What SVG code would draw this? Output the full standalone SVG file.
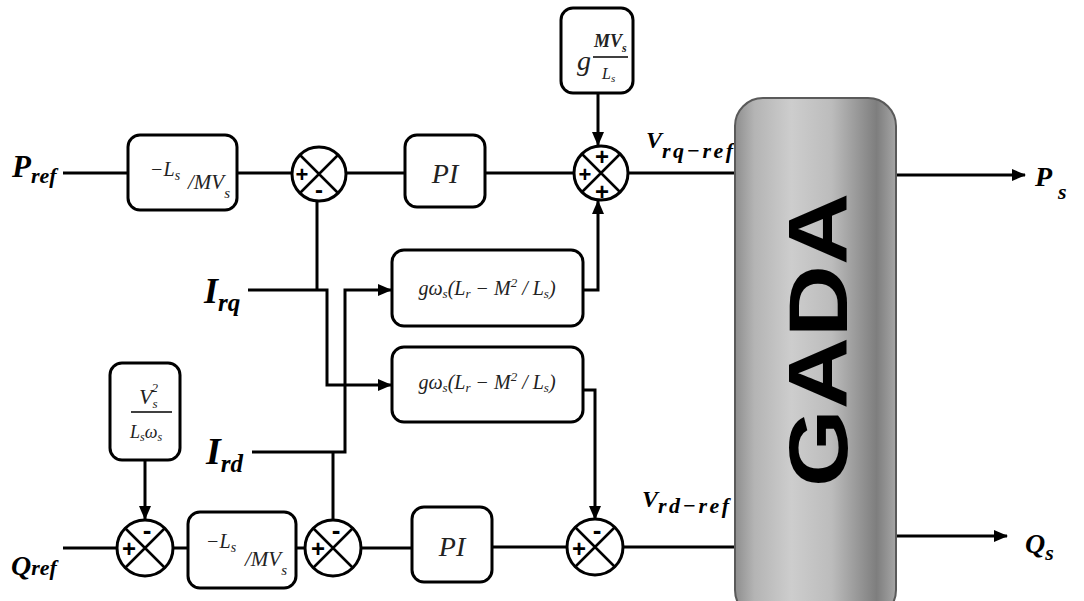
<svg xmlns="http://www.w3.org/2000/svg" width="1084" height="601" viewBox="0 0 1084 601">
<style>
.box{fill:#fff;stroke:#000;stroke-width:3}
.sum{fill:#fff;stroke:#000;stroke-width:3}
.x{stroke:#000;stroke-width:2.5}
.w{fill:none;stroke:#000;stroke-width:3}
.lbl{font-family:"Liberation Serif",serif;font-weight:bold;font-style:italic;fill:#000}
.bt{font-family:"Liberation Serif",serif;font-style:italic;fill:#222}
.sg{font-family:"Liberation Sans",sans-serif;font-weight:bold;fill:#000;text-anchor:middle}
</style>
<defs>
<marker id="arr" markerWidth="14" markerHeight="12" refX="13" refY="6" orient="auto" markerUnits="userSpaceOnUse"><path d="M0,0 L14,6 L0,12 z" fill="#000"/></marker>
<linearGradient id="gada" x1="0" y1="0" x2="1" y2="0">
<stop offset="0" stop-color="#8e8e8e"/>
<stop offset="0.12" stop-color="#b4b4b4"/>
<stop offset="0.35" stop-color="#cdcdcd"/>
<stop offset="0.6" stop-color="#bcbcbc"/>
<stop offset="0.88" stop-color="#7e7e7e"/>
<stop offset="1" stop-color="#a6a6a6"/>
</linearGradient>
</defs>

<g id="connectors">
<path class="w" d="M63,173 H128"/>
<path class="w" d="M237,173 H292"/>
<path class="w" d="M346,173 H405"/>
<path class="w" d="M485,173 H574" stroke-width="5"/>
<path class="w" d="M598,93 V145" marker-end="url(#arr)"/>
<path class="w" d="M628,173 H736"/>
<path class="w" d="M583,290 H598 V201" marker-end="url(#arr)"/>
<path class="w" d="M317,200 V290"/>
<path class="w" d="M248,290 H327 V385 H391" marker-end="url(#arr)"/>
<path class="w" d="M252,452 H345 V290 H391" marker-end="url(#arr)"/>
<path class="w" d="M333,452 V520"/>
<path class="w" d="M583,390 H595 V519" marker-end="url(#arr)"/>
<path class="w" d="M63,548 H117"/>
<path class="w" d="M145,460 V519" marker-end="url(#arr)"/>
<path class="w" d="M173,548 H188"/>
<path class="w" d="M296,548 H305"/>
<path class="w" d="M361,548 H412"/>
<path class="w" d="M492,547 H567"/>
<path class="w" d="M623,547 H736"/>
<path class="w" d="M896,175 H1025" marker-end="url(#arr)"/>
<path class="w" d="M896,536 H1007" marker-end="url(#arr)"/>
</g>

<g id="Pref"><text class="lbl" x="12" y="177" font-size="31">P<tspan font-size="22" dy="6">ref</tspan></text></g>
<g id="Qref"><text class="lbl" x="11" y="575" font-size="28">Q<tspan font-size="22" dy="0">ref</tspan></text></g>
<g id="Irq"><text class="lbl" x="204" y="303" font-size="36">I<tspan font-size="25" dy="8">rq</tspan></text></g>
<g id="Ird"><text class="lbl" x="206" y="464" font-size="38">I<tspan font-size="25" dy="8">rd</tspan></text></g>

<g id="gain1">
<rect class="box" x="128" y="135" width="109" height="75" rx="12"/>
<text class="bt" x="150" y="176" font-size="20">−L<tspan font-size="14" dy="4">s</tspan></text>
<text class="bt" x="188" y="189" font-size="21">/MV<tspan font-size="15" dy="9">s</tspan></text>
</g>

<g id="sum1">
<ellipse class="sum" cx="319" cy="174" rx="27" ry="27"/>
<path class="x" d="M300,155 L338,193 M338,155 L300,193"/>
<text class="sg" x="302" y="182" font-size="22">+</text>
<text class="sg" x="319" y="198" font-size="24">-</text>
</g>

<g id="PI1">
<rect class="box" x="405" y="135" width="80" height="72" rx="12"/>
<text class="bt" x="445" y="183" font-size="28" text-anchor="middle">PI</text>
</g>

<g id="gainMV">
<rect class="box" x="561" y="8" width="72" height="85" rx="12"/>
<text class="bt" x="577" y="70" font-size="28">g</text>
<text class="bt" x="594" y="47" font-size="18" font-weight="bold">MV<tspan font-size="12" dy="5">s</tspan></text>
<path d="M593,57 H628" stroke="#000" stroke-width="1.5"/>
<text class="bt" x="602" y="79" font-size="16">L<tspan font-size="11" dy="3">s</tspan></text>
</g>

<g id="sum2">
<circle class="sum" cx="601" cy="173" r="27"/>
<path class="x" d="M582,154 L620,192 M620,154 L582,192"/>
<text class="sg" x="602" y="165" font-size="24">+</text>
<text class="sg" x="585" y="182" font-size="22">+</text>
<text class="sg" x="602" y="200" font-size="24">+</text>
</g>

<g id="Vrq"><text class="lbl" x="646" y="148" font-size="24">V<tspan font-size="22" dy="10" letter-spacing="2.5">rq−ref</tspan></text></g>

<g id="gw1">
<rect class="box" x="392" y="250" width="191" height="76" rx="12"/>
<text class="bt" x="487" y="295" font-size="20" text-anchor="middle">gω<tspan font-size="13" dy="3">s</tspan><tspan dy="-3">(L</tspan><tspan font-size="13" dy="3">r</tspan><tspan dy="-3"> − M</tspan><tspan font-size="13" dy="-8">2</tspan><tspan dy="8"> / L</tspan><tspan font-size="13" dy="3">s</tspan><tspan dy="-3">)</tspan></text>
</g>

<g id="gw2">
<rect class="box" x="392" y="347" width="191" height="75" rx="12"/>
<text class="bt" x="487" y="389" font-size="20" text-anchor="middle">gω<tspan font-size="13" dy="3">s</tspan><tspan dy="-3">(L</tspan><tspan font-size="13" dy="3">r</tspan><tspan dy="-3"> − M</tspan><tspan font-size="13" dy="-8">2</tspan><tspan dy="8"> / L</tspan><tspan font-size="13" dy="3">s</tspan><tspan dy="-3">)</tspan></text>
</g>

<g id="gainV">
<rect class="box" x="110" y="363" width="70" height="97" rx="12"/>
<text class="bt" x="139" y="404" font-size="22">V<tspan font-size="13" dy="4">s</tspan><tspan font-size="13" dx="-6" dy="-16">2</tspan></text>
<path d="M131,412 H172" stroke="#000" stroke-width="1.5"/>
<text class="bt" x="130" y="438" font-size="18">L<tspan font-size="12" dy="3">s</tspan><tspan dy="-3">ω</tspan><tspan font-size="12" dy="3">s</tspan></text>
</g>

<g id="sum4">
<circle class="sum" cx="145" cy="548" r="28"/>
<path class="x" d="M125,528 L165,568 M165,528 L125,568"/>
<text class="sg" x="129" y="557" font-size="24">+</text>
<text class="sg" x="147" y="539" font-size="26">-</text>
</g>

<g id="gain2">
<rect class="box" x="188" y="512" width="108" height="76" rx="12"/>
<text class="bt" x="206" y="548" font-size="20">−L<tspan font-size="14" dy="4">s</tspan></text>
<text class="bt" x="245" y="566" font-size="21">/MV<tspan font-size="15" dy="9">s</tspan></text>
</g>

<g id="sum5">
<circle class="sum" cx="333" cy="548" r="28"/>
<path class="x" d="M313,528 L353,568 M353,528 L313,568"/>
<text class="sg" x="318" y="557" font-size="24">+</text>
<text class="sg" x="336" y="539" font-size="26">-</text>
</g>

<g id="PI2">
<rect class="box" x="412" y="507" width="80" height="75" rx="12"/>
<text class="bt" x="452" y="556" font-size="28" text-anchor="middle">PI</text>
</g>

<g id="sum6">
<circle class="sum" cx="595" cy="547" r="28"/>
<path class="x" d="M575,527 L615,567 M615,527 L575,567"/>
<text class="sg" x="579" y="557" font-size="24">+</text>
<text class="sg" x="597" y="539" font-size="26">-</text>
</g>

<g id="Vrd"><text class="lbl" x="642" y="507" font-size="24">V<tspan font-size="22" dy="6" letter-spacing="2.5">rd−ref</tspan></text></g>

<g id="GADA">
<rect x="735" y="98" width="161" height="520" rx="28" fill="url(#gada)" stroke="#5a5a5a" stroke-width="2"/>
<text transform="translate(847,340) rotate(-90)" x="0" y="0" text-anchor="middle" font-family="Liberation Sans, sans-serif" font-weight="bold" font-size="84" textLength="294" lengthAdjust="spacingAndGlyphs" fill="#000">GADA</text>
</g>

<g id="Ps"><text class="lbl" x="1035" y="186" font-size="28">P<tspan font-size="22" dx="6" dy="13">s</tspan></text></g>
<g id="Qs"><text class="lbl" x="1025" y="553" font-size="28">Q<tspan font-size="22" dy="7">s</tspan></text></g>
</svg>
